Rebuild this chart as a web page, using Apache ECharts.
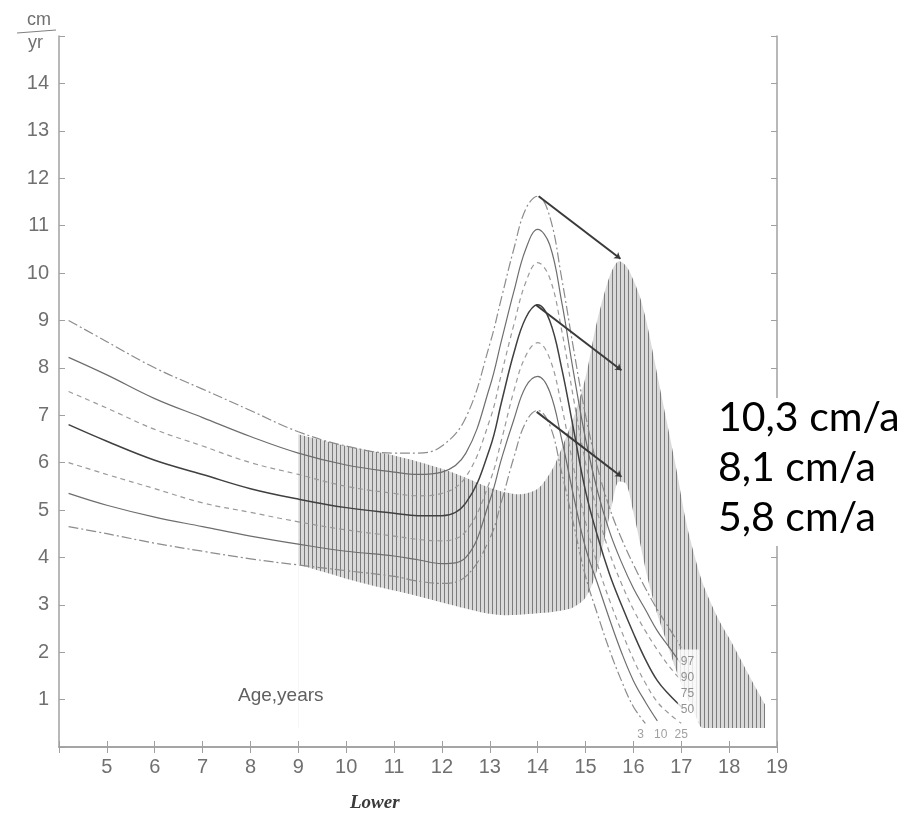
<!DOCTYPE html>
<html>
<head>
<meta charset="utf-8">
<title>Height velocity, late maturers</title>
<script src="https://cdn.jsdelivr.net/npm/echarts@6/dist/echarts.min.js"></script>
<style>
  html, body { margin: 0; padding: 0; background: #fff; }
  #chart { width: 910px; height: 818px; }
</style>
</head>
<body>
<div id="chart"></div>
<script>
// age grid for the average-timing percentile curves
var ages = [4.2, 5, 6, 7, 8, 9, 10, 11, 11.5, 12, 12.5, 13, 13.25, 13.5, 13.75, 14,
  14.25, 14.5, 14.75, 15, 15.25, 15.5, 15.75, 16, 16.25, 16.5, 16.75, 17]
var p97 = [9.0, 8.55, 8.0, 7.55, 7.1, 6.65, 6.35, 6.2, 6.2, 6.35, 6.95, 8.5, 9.5, 10.5, 11.35, 11.62,
  11.2, 9.9, 8.4, 7.0, 5.9, 5.05, 4.4, 3.85, 3.35, 2.9, 2.5, 2.1]
var p90 = [8.22, 7.85, 7.35, 6.95, 6.55, 6.2, 5.95, 5.8, 5.75, 5.8, 6.2, 7.6, 8.6, 9.6, 10.5, 10.92,
  10.6, 9.4, 7.9, 6.5, 5.4, 4.55, 3.9, 3.35, 2.9, 2.45, 2.1, 1.75]
var p75 = [7.5, 7.15, 6.7, 6.35, 6.0, 5.75, 5.5, 5.35, 5.3, 5.35, 5.7, 6.9, 7.9, 8.9, 9.8, 10.22,
  9.9, 8.8, 7.35, 6.0, 4.95, 4.1, 3.45, 2.9, 2.45, 2.05, 1.7, 1.4]
var p50 = [6.8, 6.45, 6.05, 5.75, 5.45, 5.23, 5.05, 4.93, 4.88, 4.88, 5.15, 6.3, 7.3, 8.3, 9.05, 9.33,
  9.0, 8.0, 6.7, 5.4, 4.45, 3.65, 3.0, 2.4, 1.85, 1.4, 1.1, 0.85]
var p25 = [6.0, 5.75, 5.45, 5.15, 4.95, 4.75, 4.58, 4.45, 4.38, 4.35, 4.55, 5.6, 6.5, 7.5, 8.25, 8.53,
  8.2, 7.2, 5.9, 4.75, 3.85, 3.1, 2.45, 1.85, 1.35, 0.95, 0.7, 0.5]
var p10 = [5.35, 5.1, 4.85, 4.65, 4.45, 4.28, 4.13, 4.03, 3.95, 3.87, 4.0, 5.2, 6.1, 6.9, 7.6, 7.82,
  7.5, 6.5, 5.3, 4.2, 3.45, 2.7, 2.0, 1.4, 0.95, 0.55, null, null]
var p3 = [4.65, 4.5, 4.3, 4.13, 3.97, 3.84, 3.72, 3.6, 3.5, 3.45, 3.6, 4.4, 5.2, 6.1, 6.85, 7.1,
  6.8, 5.8, 4.7, 3.6, 2.8, 2.05, 1.4, 0.85, 0.5, null, null, null]

// late maturers band (hatched): upper and lower edge
var lateAges = [9, 9.5, 10, 10.5, 11, 11.5, 12, 12.5, 12.75, 13, 13.3, 13.6, 14, 14.3, 14.5, 14.75,
  15, 15.2, 15.4, 15.55, 15.7, 15.85, 16, 16.15, 16.3, 16.5, 16.7, 16.9, 17.1, 17.3, 17.45,
  17.75, 18, 18.25, 18.5, 18.75]
var lateHi = [6.6, 6.47, 6.35, 6.25, 6.15, 6.02, 5.87, 5.68, 5.57, 5.47, 5.38, 5.33, 5.45, 5.85, 6.3, 6.95,
  7.8, 8.8, 9.6, 10.05, 10.25, 10.15, 9.85, 9.45, 8.85, 7.85, 6.85, 5.85, 4.75, 3.95, 3.45,
  2.75, 2.3, 1.83, 1.35, 0.9]
var lateLo = [3.85, 3.7, 3.55, 3.42, 3.3, 3.18, 3.05, 2.92, 2.86, 2.81, 2.78, 2.79, 2.82, 2.85, 2.88, 2.95,
  3.15, 3.6, 4.4, 5.1, 5.6, 5.55, 4.95, 4.25, 3.55, 2.8, 2.2, 1.6, 1.1, 0.65, 0.4,
  0.4, 0.4, 0.4, 0.4, 0.4]
var lateFloor = 0.4

// arrows: peak of average -> peak of late maturer
var arrowFrom = [[14.02, 11.62], [13.96, 9.33], [13.98, 7.07]]
var arrowTo = [[15.73, 10.3], [15.75, 7.95], [15.75, 5.7]]

var pctRight = ['97', '90', '75', '50']
var pctRightPos = [17.15, 1.3]
var pctBottom = ['3', '10', '25']
var pctBottomX = [16.15, 16.57, 17.0]
var pctBottomY = 0.25
var rateLabels = ['10,3 cm/a', '8,1 cm/a', '5,8 cm/a']

function pairs(xs, ys) {
  var out = []
  for (var i = 0; i < xs.length; i++) {
    if (ys[i] !== null) out.push([xs[i], ys[i]])
  }
  return out
}

// vertical hatch pattern
var pat = document.createElement('canvas')
pat.width = 4
pat.height = 4
var ctx = pat.getContext('2d')
ctx.fillStyle = '#dadada'
ctx.fillRect(0, 0, 4, 4)
ctx.fillStyle = '#7c7c7c'
ctx.fillRect(0, 0, 1, 4)

var dashDot = [10, 3, 2, 3]
var dashed = [5, 4]
function curve(name, ys, type, color, width) {
  return {
    name: name,
    type: 'line',
    data: pairs(ages, ys),
    smooth: 0.4,
    symbol: 'none',
    z: 3,
    lineStyle: { color: color, width: width, type: type }
  }
}

var chart = echarts.init(document.getElementById('chart'))
var axisCol = '#a0a0a0'
var labelCol = '#707070'
var font = 'Liberation Sans'

var option = {
  backgroundColor: '#fff',
  animation: false,
  grid: { left: 59, right: 133, top: 36, bottom: 71 },
  xAxis: [
    {
      type: 'value', min: 4, max: 19, interval: 1,
      axisLine: { lineStyle: { color: axisCol, width: 1.5 } },
      axisTick: { inside: true, length: 6, lineStyle: { color: axisCol } },
      axisLabel: {
        color: labelCol, fontFamily: font, fontSize: 20, margin: 10,
        formatter: function (v) { return v === 4 ? '' : v }
      },
      splitLine: { show: false }
    },
    {
      type: 'value', position: 'top', min: 4, max: 19, interval: 1,
      axisLine: { lineStyle: { color: axisCol, width: 1.5 } },
      axisTick: { inside: true, length: 6, lineStyle: { color: axisCol } },
      axisLabel: { show: false },
      splitLine: { show: false }
    }
  ],
  yAxis: [
    {
      type: 'value', min: 0, max: 15, interval: 1,
      axisLine: { lineStyle: { color: axisCol, width: 1.5 } },
      axisTick: { inside: true, length: 6, lineStyle: { color: axisCol } },
      axisLabel: {
        color: labelCol, fontFamily: font, fontSize: 20, margin: 10,
        formatter: function (v) { return (v === 0 || v === 15) ? '' : v }
      },
      splitLine: { show: false }
    },
    {
      type: 'value', position: 'right', min: 0, max: 15, interval: 1,
      axisLine: { lineStyle: { color: axisCol, width: 1.5 } },
      axisTick: { inside: true, length: 6, lineStyle: { color: axisCol } },
      axisLabel: { show: false },
      splitLine: { show: false }
    }
  ],
  series: [
    // hatched area from the upper edge down to the floor ...
    {
      name: 'lateHi', type: 'line', smooth: 0.3, symbol: 'none', z: 1,
      data: pairs(lateAges, lateHi),
      lineStyle: { opacity: 0 },
      areaStyle: { color: { image: pat, repeat: 'repeat' }, opacity: 1, origin: lateFloor }
    },
    // ... then blank out what lies under the lower edge
    {
      name: 'lateLo', type: 'line', smooth: 0.3, symbol: 'none', z: 2,
      data: pairs(lateAges, lateLo),
      lineStyle: { opacity: 0 },
      areaStyle: { color: '#fff', opacity: 1, origin: lateFloor }
    },
    curve('97', p97, dashDot, '#8c8c8c', 1.2),
    curve('90', p90, 'solid', '#6e6e6e', 1.2),
    curve('75', p75, dashed, '#9a9a9a', 1.2),
    curve('50', p50, 'solid', '#404040', 1.5),
    curve('25', p25, dashed, '#9a9a9a', 1.2),
    curve('10', p10, 'solid', '#6e6e6e', 1.2),
    curve('3', p3, dashDot, '#8c8c8c', 1.2),
    {
      name: 'arrows', type: 'lines', coordinateSystem: 'cartesian2d', z: 4,
      symbol: ['none', 'arrow'], symbolSize: 6,
      lineStyle: { color: '#3a3a3a', width: 2, opacity: 1 },
      data: arrowFrom.map(function (p, i) { return { coords: [p, arrowTo[i]] } })
    },
    {
      name: 'pctRight', type: 'scatter', symbolSize: 0, z: 5,
      data: [pctRightPos],
      label: {
        show: true, position: 'inside',
        formatter: pctRight.join('\n'),
        fontFamily: font, fontSize: 12, lineHeight: 16, color: '#777',
        backgroundColor: '#fff', padding: [4, 5, 4, 3]
      }
    },
    {
      name: 'pctBottom', type: 'scatter', symbolSize: 0, z: 5,
      data: pctBottomX.map(function (x, i) { return [x, pctBottomY, pctBottom[i]] }),
      label: {
        show: true, position: 'inside',
        formatter: function (p) { return p.value[2] },
        fontFamily: font, fontSize: 12, color: '#888'
      }
    }
  ],
  graphic: [
    { type: 'text', z: 100, left: 27, top: 11, style: { text: 'cm', font: '18px "Liberation Sans"', fill: '#707070' } },
    { type: 'line', z: 100, shape: { x1: 17, y1: 33, x2: 56, y2: 30 }, style: { stroke: '#808080', lineWidth: 1.2 } },
    { type: 'text', z: 100, left: 28, top: 34, style: { text: 'yr', font: '18px "Liberation Sans"', fill: '#707070' } },
    { type: 'text', z: 100, left: 238, top: 686, style: { text: 'Age,years', font: '19px "Liberation Sans"', fill: '#606060' } },
    { type: 'text', z: 100, left: 350, top: 794, style: { text: 'Lower', font: 'italic bold 19px "Liberation Serif"', fill: '#3a3a3a' } },
    { type: 'rect', z: 100, left: 714, top: 398, shape: { width: 196, height: 148 }, style: { fill: '#fff' } },
    { type: 'text', z: 101, left: 718, top: 397, style: { text: rateLabels[0], font: '41px Lato', fill: '#000' } },
    { type: 'text', z: 101, left: 718, top: 447, style: { text: rateLabels[1], font: '41px Lato', fill: '#000' } },
    { type: 'text', z: 101, left: 718, top: 497, style: { text: rateLabels[2], font: '41px Lato', fill: '#000' } }
  ]
}
chart.setOption(option)
</script>
</body>
</html>
